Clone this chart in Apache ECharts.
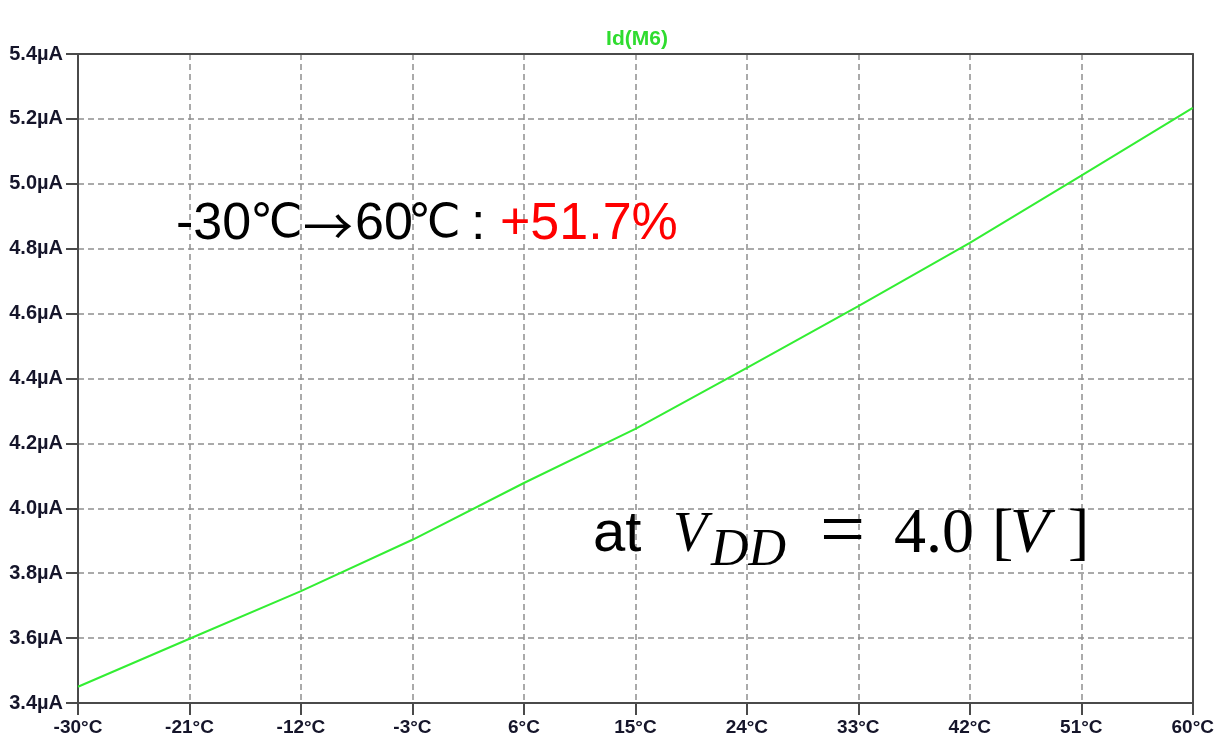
<!DOCTYPE html>
<html>
<head>
<meta charset="utf-8">
<script src="https://cdn.jsdelivr.net/npm/echarts@6/dist/echarts.min.js"></script>
<style>
  html, body { margin: 0; padding: 0; background: #ffffff; }
  #chart { width: 1217px; height: 749px; }
</style>
</head>
<body>
<div id="chart"></div>
<script>
// Drain current of M6 versus temperature
const temperatures = [-30, -21, -12, -3, 6, 15, 24, 33, 42, 51, 60];
const idM6 = [3.450, 3.598, 3.745, 3.903, 4.078, 4.245, 4.433, 4.623, 4.818, 5.025, 5.234];
const seriesName = 'Id(M6)';
const rangeChange = '+51.7%';

const labelFont = '"Liberation Sans", Arial, sans-serif';
const degreeFont = '"DejaVu Sans", sans-serif';
const cjkFont = '"Noto Sans CJK JP", "Noto Sans CJK SC", sans-serif';
const mathFont = '"Liberation Serif", "DejaVu Serif", serif';
const axisDark = '#4a4a4a';
const gridGray = '#8e8e8e';

const chart = echarts.init(document.getElementById('chart'), null, { renderer: 'canvas' });

const gridLayout = { left: 78, right: 20, top: 54, bottom: 46 };

function txt(text, x, y, font, size, opts) {
  return {
    type: 'text',
    x: x, y: y, z: 100,
    style: Object.assign({
      text: text,
      fontFamily: font,
      fontSize: size,
      fill: '#000',
      textAlign: 'left',
      textVerticalAlign: 'middle'
    }, opts || {})
  };
}

chart.setOption({
  animation: false,
  backgroundColor: '#ffffff',
  grid: Object.assign({ containLabel: false }, gridLayout),
  xAxis: [{
    type: 'value',
    min: -30, max: 60, interval: 9,
    axisLine: { show: true, onZero: false, lineStyle: { color: axisDark, width: 2 } },
    axisTick: { show: true, length: 12, lineStyle: { color: axisDark, width: 2 } },
    axisLabel: {
      margin: 15, color: '#15152a', fontFamily: labelFont, fontWeight: 'bold', fontSize: 19,
      formatter: v => v + '°C'
    },
    splitLine: { show: true, lineStyle: { color: gridGray, width: 1.5, type: [6, 4] } }
  }, {
    type: 'value', position: 'top', min: -30, max: 60, interval: 9,
    axisLine: { show: true, onZero: false, lineStyle: { color: axisDark, width: 2 } },
    axisTick: { show: false }, axisLabel: { show: false }, splitLine: { show: false }
  }],
  yAxis: [{
    type: 'value',
    min: 3.4, max: 5.4, interval: 0.2,
    axisLine: { show: true, onZero: false, lineStyle: { color: axisDark, width: 2 } },
    axisTick: { show: true, length: 12, lineStyle: { color: axisDark, width: 2 } },
    axisLabel: {
      margin: 15, color: '#15152a', fontFamily: labelFont, fontWeight: 'bold', fontSize: 20,
      formatter: v => v.toFixed(1) + 'µA'
    },
    splitLine: { show: true, lineStyle: { color: gridGray, width: 1.5, type: [6, 4] } }
  }, {
    type: 'value', position: 'right', min: 3.4, max: 5.4, interval: 0.2,
    axisLine: { show: true, onZero: false, lineStyle: { color: axisDark, width: 2 } },
    axisTick: { show: false }, axisLabel: { show: false }, splitLine: { show: false }
  }],
  series: [{
    name: seriesName,
    type: 'line',
    xAxisIndex: 0, yAxisIndex: 0,
    data: temperatures.map((t, i) => [t, idM6[i]]),
    showSymbol: false,
    smooth: false,
    lineStyle: { color: '#33ee33', width: 2 },
    z: 5
  }],
  graphic: [
    txt(seriesName, 637, 39, labelFont, 21, { textAlign: 'center', fill: '#2fdc2f', fontWeight: 'bold' }),
    // temperature span note
    txt('-30', 176, 225, labelFont, 52),
    txt('℃', 250, 225, degreeFont, 47),
    txt('→', 303, 226, cjkFont, 50),
    txt('60', 355, 225, labelFont, 52),
    txt('℃', 408, 225, degreeFont, 47),
    txt(':', 471, 225, labelFont, 52),
    txt(rangeChange, 500, 225, labelFont, 52, { fill: '#ff0000' }),
    // supply condition
    txt('at', 593, 535, labelFont, 58),
    txt('V', 673, 536, mathFont, 56, { fontStyle: 'italic' }),
    txt('DD', 711, 551, mathFont, 52, { fontStyle: 'italic' }),
    txt('=', 820, 535, mathFont, 80),
    txt('4.0', 894, 535, mathFont, 64),
    txt('[', 992, 535, mathFont, 64),
    txt('V', 1010, 535, mathFont, 64, { fontStyle: 'italic' }),
    txt(']', 1068, 535, mathFont, 64)
  ]
});
</script>
</body>
</html>
